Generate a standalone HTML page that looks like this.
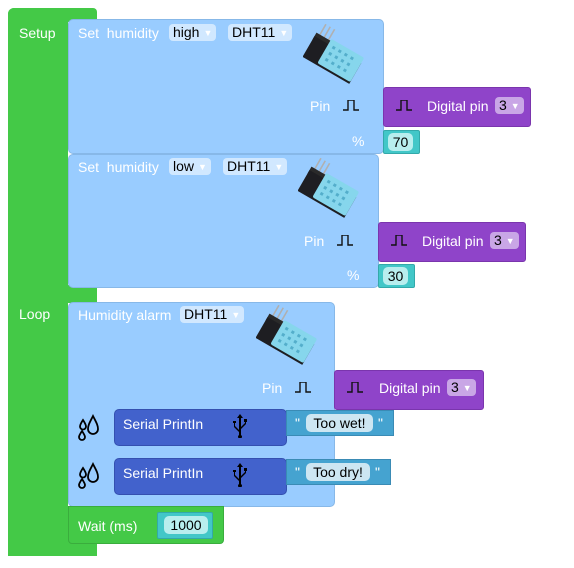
<!DOCTYPE html>
<html><head><meta charset="utf-8"><style>
body{margin:0;width:574px;height:568px;background:#fff;position:relative;overflow:hidden;font-family:"Liberation Sans",sans-serif;font-size:14px}
div{position:absolute;box-sizing:border-box}
.t{color:#fff;white-space:nowrap;line-height:16px}
.g{background:#44c947}
.b{background:#99ccff;border:1px solid #87b8e8;border-radius:5px}
.p{background:#8f44c9;border:1px solid #7a35ad;border-radius:3px}
.dd{background:rgba(255,255,255,.55);color:#000;border-radius:4px;padding:0 4px;height:17px;line-height:17px}
.dd i{font-style:normal;color:#fff;font-size:9px;margin-left:4px;vertical-align:middle}
.n{background:#42c7c8;border:1px solid #33a9aa;border-radius:2px}
.np{background:#b8eeee;border-radius:5px;color:#000;height:18px;line-height:18px;text-align:center}
.s{background:#4262cc;border:1px solid #3450b0;border-radius:5px}
.st{background:#45a3d0;border:1px solid #3a8bb5}
</style></head><body>
<svg width="0" height="0" style="position:absolute"><defs>
<g id="sensor"><g transform="translate(30,32) rotate(30) translate(-26,-14)">
<g stroke="#b0b0b0" stroke-width="1.6"><line x1="4" y1="4" x2="4" y2="-10"/><line x1="9" y1="4" x2="9" y2="-10"/><line x1="14" y1="4" x2="14" y2="-10"/></g>
<rect x="0" y="2" width="18" height="8" fill="#2a2a2a"/>
<rect x="0" y="6" width="54" height="24" fill="#1e1e22"/>
<rect x="16" y="0" width="38" height="28" rx="2" fill="#86d6ec"/>
<g fill="#54aecb"><rect x="21" y="5" width="3" height="3"/><rect x="28" y="5" width="3" height="3"/><rect x="35" y="5" width="3" height="3"/><rect x="42" y="5" width="3" height="3"/><rect x="21" y="12" width="3" height="3"/><rect x="28" y="12" width="3" height="3"/><rect x="35" y="12" width="3" height="3"/><rect x="42" y="12" width="3" height="3"/><rect x="21" y="19" width="3" height="3"/><rect x="28" y="19" width="3" height="3"/><rect x="35" y="19" width="3" height="3"/><rect x="42" y="19" width="3" height="3"/></g>
</g></g>
<g id="pulse"><path d="M0 10H5V0H11V10H16" fill="none" stroke="#111" stroke-width="1.4"/></g>
<g id="usb"><path d="M8 0L5 4H7V16L3 12V9H4V7H1V9H2V13L7 18V21A2 2 0 1 0 9 21V15L14 10V8H15V5H12V8H13V9L9 13V4H11Z" fill="#000"/></g>
</defs></svg>

<div class="g" style="left:8px;top:8px;width:60px;height:548px;border-radius:6px 0 0 6px"></div>
<div class="g" style="left:8px;top:8px;width:89px;height:14px;border-radius:6px 4px 0 0"></div>
<div class="g" style="left:60px;top:285px;width:37px;height:18px"></div>
<div class="g" style="left:8px;top:540px;width:89px;height:16px"></div>
<div class="t" style="left:19px;top:25px">Setup</div>
<div class="t" style="left:19px;top:306px">Loop</div>

<div class="b" style="left:68px;top:19px;width:316px;height:135px"></div>
<div class="t" style="left:78px;top:25px">Set&nbsp; humidity</div>
<div class="dd" style="left:169px;top:24px">high<i>▼</i></div>
<div class="dd" style="left:228px;top:24px">DHT11<i>▼</i></div>
<svg style="position:absolute;left:303px;top:24px" width="64" height="62"><use href="#sensor"/></svg>
<div class="t" style="left:310px;top:98px">Pin</div>
<svg style="position:absolute;left:343px;top:100px" width="18" height="12"><use href="#pulse"/></svg>
<div class="p" style="left:383px;top:87px;width:148px;height:40px"></div>
<svg style="position:absolute;left:396px;top:100px" width="18" height="12"><use href="#pulse"/></svg>
<div class="t" style="left:427px;top:98px">Digital pin</div>
<div class="dd" style="left:495px;top:97px;background:#c9a6e6">3<i>▼</i></div>
<div class="t" style="left:352px;top:133px">%</div>
<div class="n" style="left:383px;top:130px;width:37px;height:24px"></div>
<div class="np" style="left:388px;top:133px;width:25px">70</div>

<div class="b" style="left:68px;top:154px;width:311px;height:134px"></div>
<div class="t" style="left:78px;top:159px">Set&nbsp; humidity</div>
<div class="dd" style="left:169px;top:158px">low<i>▼</i></div>
<div class="dd" style="left:223px;top:158px">DHT11<i>▼</i></div>
<svg style="position:absolute;left:298px;top:158px" width="64" height="62"><use href="#sensor"/></svg>
<div class="t" style="left:304px;top:233px">Pin</div>
<svg style="position:absolute;left:337px;top:235px" width="18" height="12"><use href="#pulse"/></svg>
<div class="p" style="left:378px;top:222px;width:148px;height:40px"></div>
<svg style="position:absolute;left:391px;top:235px" width="18" height="12"><use href="#pulse"/></svg>
<div class="t" style="left:422px;top:233px">Digital pin</div>
<div class="dd" style="left:490px;top:232px;background:#c9a6e6">3<i>▼</i></div>
<div class="t" style="left:347px;top:267px">%</div>
<div class="n" style="left:378px;top:264px;width:37px;height:24px"></div>
<div class="np" style="left:383px;top:267px;width:25px">30</div>

<div class="b" style="left:68px;top:302px;width:267px;height:205px"></div>
<div class="t" style="left:78px;top:307px">Humidity alarm</div>
<div class="dd" style="left:180px;top:306px">DHT11<i>▼</i></div>
<svg style="position:absolute;left:256px;top:305px" width="64" height="62"><use href="#sensor"/></svg>
<div class="t" style="left:262px;top:380px">Pin</div>
<svg style="position:absolute;left:295px;top:382px" width="18" height="12"><use href="#pulse"/></svg>
<div class="p" style="left:334px;top:370px;width:150px;height:40px"></div>
<svg style="position:absolute;left:347px;top:382px" width="18" height="12"><use href="#pulse"/></svg>
<div class="t" style="left:379px;top:380px">Digital pin</div>
<div class="dd" style="left:447px;top:379px;background:#c9a6e6">3<i>▼</i></div>

<div class="s" style="left:114px;top:409px;width:173px;height:37px"></div>
<div class="t" style="left:123px;top:416px">Serial PrintIn</div>
<svg style="position:absolute;left:232px;top:414px" width="16" height="24"><use href="#usb"/></svg>
<div class="st" style="left:286px;top:410px;width:108px;height:26px"></div>
<div class="t" style="left:295px;top:415px">"</div>
<div class="np" style="left:306px;top:414px;width:67px;background:#cde6f2">Too wet!</div>
<div class="t" style="left:378px;top:415px">"</div>

<div class="s" style="left:114px;top:458px;width:173px;height:37px"></div>
<div class="t" style="left:123px;top:465px">Serial PrintIn</div>
<svg style="position:absolute;left:232px;top:463px" width="16" height="24"><use href="#usb"/></svg>
<div class="st" style="left:286px;top:459px;width:105px;height:26px"></div>
<div class="t" style="left:295px;top:464px">"</div>
<div class="np" style="left:306px;top:463px;width:64px;background:#cde6f2">Too dry!</div>
<div class="t" style="left:375px;top:464px">"</div>

<svg style="position:absolute;left:78px;top:414px" width="24" height="28"><path d="M5 6C3 9 2 11 2 12.5A3 3 0 0 0 8 12.5C8 11 7 9 5 6Z M15 2C12 8 10 11 10 15A5 5 0 0 0 20 15C20 11 18 8 15 2Z M4 17C2 20 1 22 1 23A3 3 0 0 0 7 23C7 22 6 20 4 17Z" fill="none" stroke="#000" stroke-width="1.8"/></svg>
<svg style="position:absolute;left:78px;top:462px" width="24" height="28"><path d="M5 6C3 9 2 11 2 12.5A3 3 0 0 0 8 12.5C8 11 7 9 5 6Z M15 2C12 8 10 11 10 15A5 5 0 0 0 20 15C20 11 18 8 15 2Z M4 17C2 20 1 22 1 23A3 3 0 0 0 7 23C7 22 6 20 4 17Z" fill="none" stroke="#000" stroke-width="1.8"/></svg>

<div class="g" style="left:68px;top:506px;width:156px;height:38px;border:1px solid #3aad3d;border-radius:0 0 4px 4px"></div>
<div class="t" style="left:78px;top:518px">Wait (ms)</div>
<div class="n" style="left:157px;top:512px;width:56px;height:27px"></div>
<div class="np" style="left:164px;top:516px;width:44px">1000</div>
</body></html>
